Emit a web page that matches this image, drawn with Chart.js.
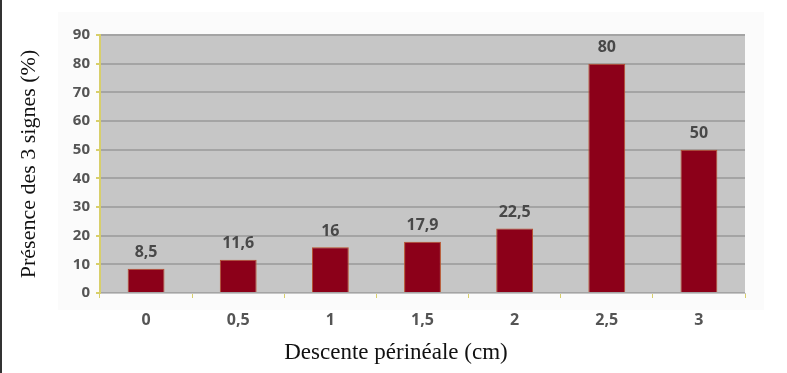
<!DOCTYPE html>
<html>
<head>
<meta charset="utf-8">
<script src="https://cdn.jsdelivr.net/npm/chart.js@4"></script>
<style>
  body { margin: 0; background: #fff; }
  #wrap { width: 787px; height: 373px; position: relative; }
</style>
</head>
<body>
<div id="wrap"><canvas id="presenceChart" width="787" height="373"></canvas></div>
<script>
// descente périnéale (cm) vs présence des 3 signes (%)
const categories = ['0', '0,5', '1', '1,5', '2', '2,5', '3'];
const presence = [8.5, 11.6, 16, 17.9, 22.5, 80, 50];
const yTicks = [0, 10, 20, 30, 40, 50, 60, 70, 80, 90];
const xTitle = 'Descente périnéale (cm)';

const frBlocks = {
    id: 'frBlocks',
    beforeDraw(chart) {
        const { ctx, chartArea: a } = chart;
        ctx.save();
        // faint outer panel
        ctx.fillStyle = '#fbfbfb';
        ctx.fillRect(58, 12, 706, 298);
        // plot background
        ctx.fillStyle = '#c6c6c6';
        ctx.fillRect(a.left, a.top, a.right - a.left, a.bottom - a.top);
        // dark frame line on the left
        ctx.fillStyle = '#333';
        ctx.fillRect(0, 0, 2, 373);
        ctx.restore();
    },
    afterDatasetsDraw(chart) {
        const { ctx } = chart;
        const meta = chart.getDatasetMeta(0);
        ctx.save();
        ctx.font = 'bold 16px "Open Sans", sans-serif';
        ctx.fillStyle = '#484848';
        ctx.textAlign = 'center';
        ctx.textBaseline = 'bottom';
        meta.data.forEach((bar, i) => {
            const txt = String(presence[i]).replace('.', ',');
            ctx.fillText(txt, bar.x, bar.y - 8);
        });
        // x axis title, sits a bit left of the plot centre in the original
        ctx.font = '23px "Liberation Serif", serif';
        ctx.fillStyle = '#111';
        ctx.textBaseline = 'middle';
        ctx.fillText(xTitle, 396, 353);
        ctx.restore();
    }
};

const ctx = document.getElementById('presenceChart').getContext('2d');
new Chart(ctx, {
    type: 'bar',
    data: {
        labels: categories,
        datasets: [{
            data: presence,
            backgroundColor: '#8c0019',
            borderColor: '#b8502a',
            borderWidth: 1,
            borderSkipped: 'bottom',
            barPercentage: 0.4,
            categoryPercentage: 1.0
        }]
    },
    options: {
        responsive: false,
        animation: false,
        layout: { padding: { left: 0, top: 35, right: 42, bottom: 0 } },
        plugins: {
            legend: { display: false },
            tooltip: { enabled: false }
        },
        scales: {
            x: {
                afterFit(scale) { scale.height = 80; },
                grid: {
                    display: true,
                    drawOnChartArea: false,
                    offset: true,
                    color: '#d8cf6a',
                    tickLength: 5
                },
                border: { display: true, color: '#c6c6c6' },
                ticks: {
                    color: '#555',
                    padding: 13,
                    font: { family: '"Open Sans", sans-serif', size: 16, weight: 'bold' }
                }
            },
            y: {
                min: 0,
                max: 90,
                afterFit(scale) { scale.width = 100; },
                afterBuildTicks(scale) { scale.ticks = yTicks.map(v => ({ value: v })); },
                grid: {
                    color: '#a4a4a4',
                    lineWidth: 2,
                    tickColor: '#d8cf6a',
                    tickLength: 4
                },
                border: { display: true, color: '#d8cf6a', width: 2 },
                ticks: {
                    color: '#555',
                    padding: 6,
                    font: { family: '"Open Sans", sans-serif', size: 15, weight: 'bold' }
                },
                title: {
                    display: true,
                    text: 'Présence des 3 signes (%)',
                    color: '#111',
                    font: { family: '"Liberation Serif", serif', size: 22 },
                    padding: { top: 16, bottom: 4 }
                }
            }
        }
    },
    plugins: [frBlocks]
});
</script>
</body>
</html>
